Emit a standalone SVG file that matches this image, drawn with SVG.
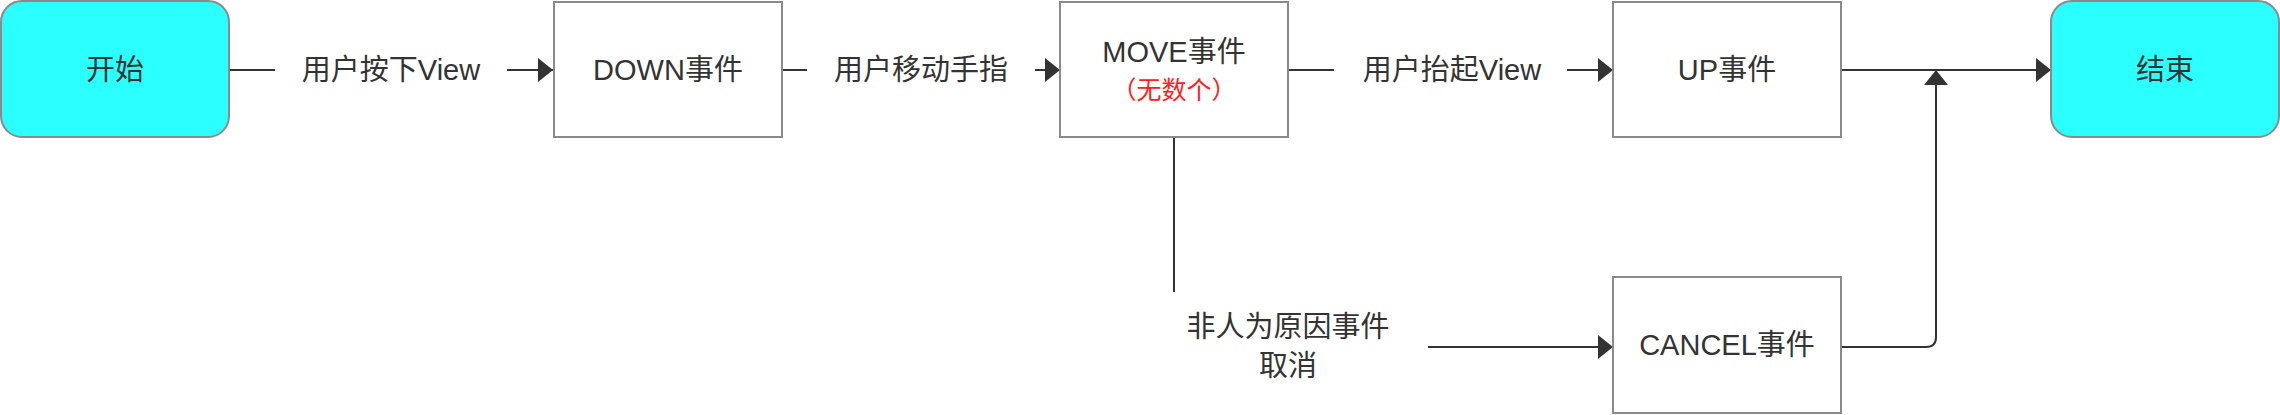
<svg xmlns="http://www.w3.org/2000/svg" width="2280" height="415" viewBox="0 0 2280 415">
<style>
.box{fill:#ffffff;stroke:#8a8a8a;stroke-width:2}
.term{fill:#2bffff;stroke:#8a8a8a;stroke-width:2}
.t{font-family:"Liberation Sans","Noto Sans CJK SC",sans-serif;font-size:29px;fill:#333333;text-anchor:middle;dominant-baseline:central}
.red{font-size:25px;fill:#ff2020}
.edge{fill:none;stroke:#333333;stroke-width:2}
</style>
<defs>
<marker id="arr" viewBox="0 0 15 24" refX="15" refY="12" markerWidth="15" markerHeight="24" markerUnits="userSpaceOnUse" orient="auto">
<path d="M0,0 L15,12 L0,24 Z" fill="#333333"/>
</marker>
</defs>
<g id="connectors">
<path class="edge" d="M229,70 L275,70"/>
<path class="edge" d="M507,70 L553,70" marker-end="url(#arr)"/>
<text class="t" x="391" y="70">用户按下View</text>
<path class="edge" d="M782,70 L807,70"/>
<path class="edge" d="M1035,70 L1060,70" marker-end="url(#arr)"/>
<text class="t" x="921" y="70">用户移动手指</text>
<path class="edge" d="M1288,70 L1334,70"/>
<path class="edge" d="M1567,70 L1613,70" marker-end="url(#arr)"/>
<text class="t" x="1452" y="70">用户抬起View</text>
<path class="edge" d="M1841,70 L2051,70" marker-end="url(#arr)"/>
<path class="edge" d="M1174,137 L1174,292"/>
<path class="edge" d="M1428,347 L1613,347" marker-end="url(#arr)"/>
<text class="t" x="1288" y="327">非人为原因事件</text>
<text class="t" x="1288" y="366">取消</text>
<path class="edge" d="M1841,347 L1926,347 Q1936,347 1936,337 L1936,70" marker-end="url(#arr)"/>
</g>
<g id="start">
<rect class="term" x="1" y="1" width="228" height="136" rx="21" ry="21"/>
<text class="t" x="115" y="70">开始</text>
</g>
<g id="down">
<rect class="box" x="554" y="2" width="228" height="135"/>
<text class="t" x="668" y="70">DOWN事件</text>
</g>
<g id="move">
<rect class="box" x="1060" y="2" width="228" height="135"/>
<text class="t" x="1174" y="52">MOVE事件</text>
<text class="t red" x="1174" y="90">（无数个）</text>
</g>
<g id="up">
<rect class="box" x="1613" y="2" width="228" height="135"/>
<text class="t" x="1727" y="70">UP事件</text>
</g>
<g id="end">
<rect class="term" x="2051" y="1" width="228" height="136" rx="21" ry="21"/>
<text class="t" x="2165" y="70">结束</text>
</g>
<g id="cancel">
<rect class="box" x="1613" y="277" width="228" height="136"/>
<text class="t" x="1727" y="345">CANCEL事件</text>
</g>
</svg>
